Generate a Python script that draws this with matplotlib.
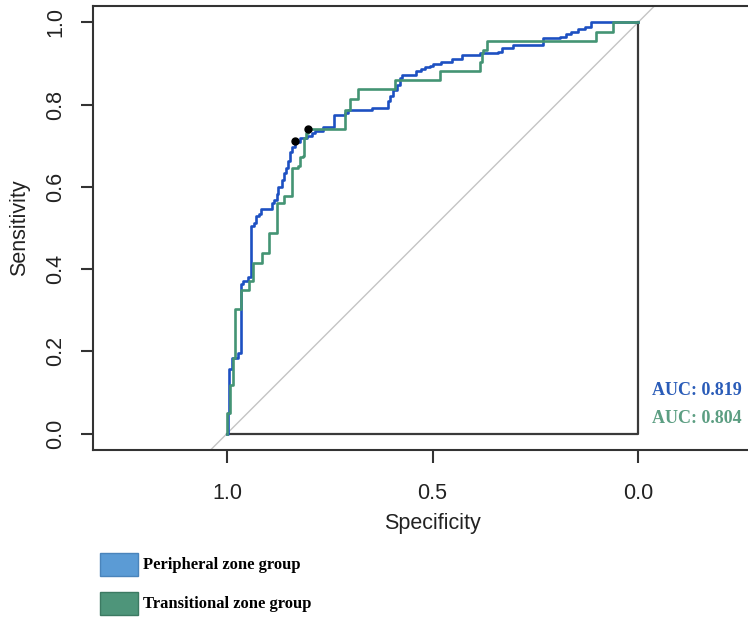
import matplotlib
matplotlib.use("Agg")
from matplotlib import pyplot as plt
from matplotlib.patches import Rectangle
import numpy as np

# ROC step corners (specificity, sensitivity)
spec_pz = np.array([1.0, 0.998, 0.995, 0.988, 0.973, 0.966, 0.961, 0.949, 0.942, 0.934,
                    0.930, 0.922, 0.917, 0.891, 0.886, 0.878, 0.876, 0.866, 0.861, 0.857,
                    0.852, 0.847, 0.842, 0.835, 0.823, 0.806, 0.793, 0.786, 0.767, 0.740,
                    0.713, 0.706, 0.648, 0.609, 0.604, 0.597, 0.587, 0.580, 0.575, 0.541,
                    0.529, 0.519, 0.507, 0.499, 0.480, 0.453, 0.429, 0.385, 0.341, 0.332,
                    0.320, 0.305, 0.244, 0.232, 0.191, 0.176, 0.162, 0.147, 0.128, 0.115, 0.0])
sens_pz = np.array([0.0, 0.051, 0.158, 0.185, 0.197, 0.365, 0.370, 0.380, 0.504, 0.513,
                    0.528, 0.535, 0.547, 0.560, 0.569, 0.582, 0.599, 0.616, 0.635, 0.647,
                    0.664, 0.684, 0.696, 0.710, 0.718, 0.725, 0.730, 0.735, 0.745, 0.774,
                    0.779, 0.786, 0.793, 0.810, 0.822, 0.835, 0.847, 0.866, 0.871, 0.881,
                    0.886, 0.891, 0.895, 0.900, 0.905, 0.912, 0.920, 0.925, 0.929, 0.937,
                    0.939, 0.944, 0.946, 0.961, 0.964, 0.971, 0.976, 0.983, 0.990, 1.0, 1.0])

spec_tz = np.array([1.0, 1.0, 0.993, 0.985, 0.981, 0.966, 0.947, 0.937, 0.915, 0.898,
                    0.878, 0.861, 0.842, 0.827, 0.823, 0.815, 0.813, 0.808, 0.803, 0.713,
                    0.701, 0.682, 0.592, 0.482, 0.385, 0.380, 0.378, 0.368, 0.101, 0.062, 0.0])
sens_tz = np.array([0.0, 0.049, 0.117, 0.185, 0.304, 0.348, 0.372, 0.416, 0.440, 0.487,
                    0.560, 0.579, 0.647, 0.652, 0.672, 0.676, 0.720, 0.732, 0.742, 0.786,
                    0.815, 0.837, 0.861, 0.883, 0.903, 0.925, 0.932, 0.954, 0.976, 1.0, 1.0])

# best thresholds (black dots)
best_spec = [0.835, 0.803]
best_sens = [0.711, 0.742]

auc_pz = 0.819
auc_tz = 0.804
groups = ["Peripheral zone group", "Transitional zone group"]

blue = "#1d50c2"
green = "#449474"
axcol = "#333333"

plt.rcParams['font.family'] = ['Liberation Sans', 'DejaVu Sans']

fig = plt.figure(figsize=(7.48, 6.19), dpi=100)
ax = fig.add_axes([93/748, 169/619, 679/748, 444/619])

ax.set_xlim(1.326, -0.326)
ax.set_ylim(-0.04, 1.04)

ax.axline((1, 0), (0, 1), color="#c4c4c4", lw=1.0, zorder=1)
# frame of the unit square
ax.plot([1.0, 0.0, 0.0], [0.0, 0.0, 1.0], color="#3a3a3a", lw=1.6, zorder=2)

ax.plot(spec_pz, sens_pz, drawstyle='steps-post', color=blue, lw=1.9, zorder=3)
ax.plot(spec_tz, sens_tz, drawstyle='steps-post', color=green, lw=1.9, zorder=4)
ax.plot(best_spec, best_sens, 'o', color='black', ms=5, zorder=5)

ax.text(-0.033, 0.105, f"AUC: {auc_pz:.3f}", color="#2a5cb8", fontsize=13,
        fontweight='bold', family='Liberation Serif', ha='left', va='center')
ax.text(-0.033, 0.036, f"AUC: {auc_tz:.3f}", color="#5c9e82", fontsize=13,
        fontweight='bold', family='Liberation Serif', ha='left', va='center')

ax.set_xticks([1.0, 0.5, 0.0])
ax.set_xticklabels(["1.0", "0.5", "0.0"])
ax.set_yticks([0.0, 0.2, 0.4, 0.6, 0.8, 1.0])
ax.set_yticklabels(["0.0", "0.2", "0.4", "0.6", "0.8", "1.0"], rotation=90, va='center')
ax.tick_params(axis='both', direction='out', length=9, width=1.5, color=axcol,
               labelsize=15.5, labelcolor='#222222')
ax.tick_params(axis='x', pad=15)
ax.tick_params(axis='y', pad=10)
for s in ax.spines.values():
    s.set_linewidth(1.5)
    s.set_color(axcol)

ax.set_xlabel("Specificity", fontsize=15.5, color='#222222', labelpad=6)
ax.set_ylabel("Sensitivity", fontsize=15.5, color='#222222', labelpad=11)

# legend boxes below the plot, drawn by hand like the R output
box_cols = [("#5b9bd5", "#4a84bb"), ("#4e957a", "#3c7a62")]
box_top = [553, 592]
for (fc, ec), top, name in zip(box_cols, box_top, groups):
    fig.add_artist(Rectangle((100/748, 1 - (top + 23)/619), 38/748, 23/619,
                             facecolor=fc, edgecolor=ec, lw=1.0,
                             transform=fig.transFigure))
    fig.text(143/748, 1 - (top + 12)/619, name, family='Liberation Serif',
             fontweight='bold', fontsize=12, ha='left', va='center')

fig.savefig("out.png", dpi=100)
